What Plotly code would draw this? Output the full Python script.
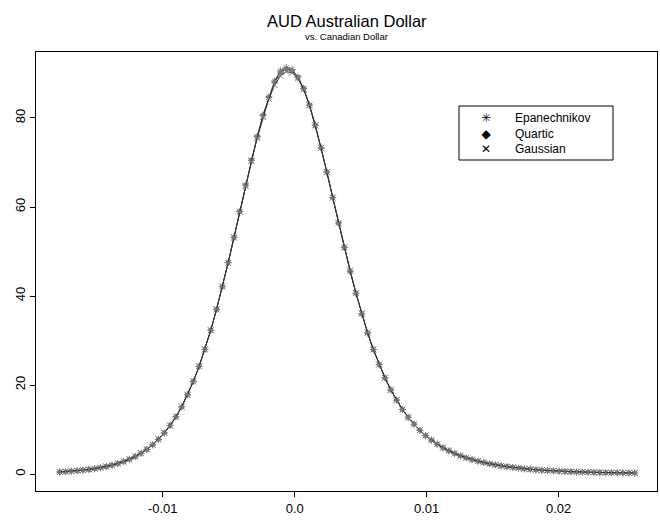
import plotly.graph_objects as go

# Evaluation grid of the kernel density estimates (daily log-returns)
grid = [
    -0.01780, -0.01736, -0.01692, -0.01648, -0.01604, -0.01560, -0.01516, -0.01472, -0.01428, -0.01384,
    -0.01340, -0.01296, -0.01252, -0.01208, -0.01164, -0.01120, -0.01076, -0.01032, -0.00988, -0.00944,
    -0.00900, -0.00856, -0.00812, -0.00768, -0.00724, -0.00680, -0.00636, -0.00592, -0.00548, -0.00504,
    -0.00460, -0.00416, -0.00372, -0.00328, -0.00284, -0.00240, -0.00196, -0.00152, -0.00108, -0.00064,
    -0.00020, 0.00024, 0.00068, 0.00112, 0.00156, 0.00200, 0.00244, 0.00288, 0.00332, 0.00376,
    0.00420, 0.00464, 0.00508, 0.00552, 0.00596, 0.00640, 0.00684, 0.00728, 0.00772, 0.00816,
    0.00860, 0.00904, 0.00948, 0.00992, 0.01036, 0.01080, 0.01124, 0.01168, 0.01212, 0.01256,
    0.01300, 0.01344, 0.01388, 0.01432, 0.01476, 0.01520, 0.01564, 0.01608, 0.01652, 0.01696,
    0.01740, 0.01784, 0.01828, 0.01872, 0.01916, 0.01960, 0.02004, 0.02048, 0.02092, 0.02136,
    0.02180, 0.02224, 0.02268, 0.02312, 0.02356, 0.02400, 0.02444, 0.02488, 0.02532, 0.02576,
]

epanechnikov = [
    0.45, 0.53, 0.62, 0.73, 0.86, 1.01, 1.19, 1.41, 1.67, 1.98,
    2.35, 2.78, 3.30, 3.92, 4.66, 5.53, 6.56, 7.78, 9.22, 10.9,
    12.85, 15.1, 17.8, 20.8, 24.2, 28.0, 32.3, 37.0, 42.1, 47.5,
    53.2, 59.0, 64.9, 70.5, 75.8, 80.6, 84.7, 88.3, 90.6, 91.3,
    90.9, 89.2, 86.6, 82.9, 78.4, 73.3, 67.8, 62.1, 56.4, 50.9,
    45.6, 40.6, 36.0, 31.7, 27.95, 24.6, 21.6, 18.9, 16.6, 14.5,
    12.75, 11.2, 9.82, 8.63, 7.59, 6.69, 5.90, 5.21, 4.61, 4.09,
    3.63, 3.23, 2.88, 2.57, 2.29, 2.05, 1.84, 1.65, 1.49, 1.34,
    1.15, 1.04, 0.94, 0.85, 0.77, 0.70, 0.63, 0.57, 0.52, 0.47,
    0.43, 0.39, 0.36, 0.33, 0.30, 0.28, 0.26, 0.24, 0.22, 0.21,
]

quartic = [
    0.44, 0.52, 0.62, 0.73, 0.86, 1.01, 1.19, 1.40, 1.67, 1.98,
    2.35, 2.79, 3.30, 3.92, 4.65, 5.53, 6.57, 7.78, 9.21, 10.9,
    12.86, 15.1, 17.8, 20.8, 24.2, 28.0, 32.3, 37.0, 42.1, 47.5,
    53.2, 59.0, 64.9, 70.5, 75.8, 80.6, 84.6, 88.1, 90.2, 91.0,
    90.6, 89.1, 86.6, 82.9, 78.4, 73.3, 67.8, 62.1, 56.4, 50.9,
    45.6, 40.6, 36.0, 31.7, 27.95, 24.6, 21.6, 18.9, 16.6, 14.5,
    12.75, 11.2, 9.82, 8.63, 7.60, 6.69, 5.90, 5.21, 4.61, 4.09,
    3.63, 3.23, 2.88, 2.57, 2.29, 2.05, 1.84, 1.65, 1.49, 1.34,
    1.15, 1.04, 0.94, 0.85, 0.77, 0.70, 0.63, 0.57, 0.52, 0.47,
    0.43, 0.39, 0.36, 0.33, 0.30, 0.28, 0.26, 0.24, 0.22, 0.21,
]

gaussian = [
    0.47, 0.55, 0.64, 0.75, 0.88, 1.03, 1.21, 1.43, 1.69, 2.00,
    2.37, 2.80, 3.32, 3.94, 4.68, 5.55, 6.58, 7.80, 9.23, 10.9,
    12.85, 15.1, 17.8, 20.8, 24.2, 28.0, 32.3, 37.0, 42.1, 47.4,
    53.1, 58.9, 64.7, 70.3, 75.5, 80.2, 84.3, 87.4, 89.5, 90.4,
    90.2, 88.9, 86.4, 82.8, 78.3, 73.3, 67.8, 62.1, 56.4, 50.9,
    45.7, 40.7, 36.1, 31.8, 28.0, 24.6, 21.6, 18.9, 16.6, 14.5,
    12.76, 11.2, 9.83, 8.65, 7.61, 6.71, 5.92, 5.23, 4.63, 4.11,
    3.65, 3.25, 2.90, 2.59, 2.31, 2.07, 1.86, 1.67, 1.51, 1.36,
    1.17, 1.06, 0.96, 0.87, 0.79, 0.72, 0.65, 0.59, 0.54, 0.49,
    0.45, 0.41, 0.38, 0.35, 0.32, 0.30, 0.28, 0.26, 0.24, 0.23,
]

series_names = ["Epanechnikov", "Quartic", "Gaussian"]
series_values = [epanechnikov, quartic, gaussian]
series_symbols = ["asterisk-open", "diamond", "x-thin-open"]
series_sizes = [6, 4, 6]
legend_glyphs = ["\u2733", "\u25C6", "\u2715"]

x_tick_vals = [-0.01, 0.0, 0.01, 0.02]
x_tick_text = ["-0.01", "0.0", "0.01", "0.02"]
y_tick_vals = [0, 20, 40, 60, 80]
y_tick_text = ["0", "20", "40", "60", "80"]

FONT = "Liberation Sans, Arial, Helvetica, sans-serif"
MARK_GREY = "#7a7a7a"
LINE_GREY = "#333333"

# Plot-area geometry in pixels (used to place the boxed key)
W, H = 660, 525
ML, MR, MT, MB = 36, 3, 52, 34
PW, PH = W - ML - MR, H - MT - MB


def px_x(px):
    return (px - ML) / PW


def px_y(py):
    return (H - MB - py) / PH


fig = go.Figure()

# Density curves: thin dark line with grey symbols at each grid point
for name, vals, sym, sz in zip(series_names, series_values, series_symbols, series_sizes):
    fig.add_trace(go.Scatter(
        x=grid, y=vals, mode="lines+markers", name=name, showlegend=False,
        line=dict(color=LINE_GREY, width=1),
        marker=dict(symbol=sym, size=sz, color=MARK_GREY,
                    line=dict(color=MARK_GREY, width=1)),
    ))

KEY_SIZE = 12
annotations = [
    dict(text="AUD Australian Dollar", xref="paper", yref="paper",
         x=0.5, y=1, yshift=31, xanchor="center", yanchor="middle",
         showarrow=False, font=dict(family=FONT, size=16.5, color="black")),
    dict(text="vs. Canadian Dollar", xref="paper", yref="paper",
         x=0.5, y=1, yshift=16, xanchor="center", yanchor="middle",
         showarrow=False, font=dict(family=FONT, size=9.5, color="black")),
    # Boxed key in the upper right: symbol column and label column
    dict(text="<br>".join(legend_glyphs), xref="paper", yref="paper",
         x=px_x(486), y=px_y(133), xanchor="center", yanchor="middle",
         align="center", showarrow=False,
         font=dict(family="DejaVu Sans", size=KEY_SIZE, color="black")),
    dict(text="<br>".join(series_names), xref="paper", yref="paper",
         x=px_x(513), y=px_y(133), xanchor="left", yanchor="middle",
         align="left", showarrow=False,
         font=dict(family=FONT, size=KEY_SIZE, color="black")),
]

fig.update_layout(
    width=W, height=H,
    margin=dict(l=ML, r=MR, t=MT, b=MB),
    paper_bgcolor="white", plot_bgcolor="white",
    font=dict(family=FONT, size=13, color="black"),
    showlegend=False,
    annotations=annotations,
    shapes=[
        dict(type="rect", xref="paper", yref="paper",
             x0=px_x(459), x1=px_x(613), y0=px_y(160), y1=px_y(106),
             line=dict(color="black", width=1), fillcolor="rgba(0,0,0,0)"),
    ],
)

fig.update_xaxes(
    range=[-0.0196, 0.02745], tickvals=x_tick_vals, ticktext=x_tick_text,
    showgrid=False, zeroline=False, showline=True, linecolor="black",
    linewidth=1, mirror=True, ticks="outside", ticklen=5, tickcolor="black",
    tickfont=dict(family=FONT, size=13),
)
fig.update_yaxes(
    range=[-3.82, 94.83], tickvals=y_tick_vals, ticktext=y_tick_text,
    showgrid=False, zeroline=False, showline=True, linecolor="black",
    linewidth=1, mirror=True, ticks="outside", ticklen=5, tickcolor="black",
    tickangle=-90, tickfont=dict(family=FONT, size=13),
)

fig.write_html("out.html")
